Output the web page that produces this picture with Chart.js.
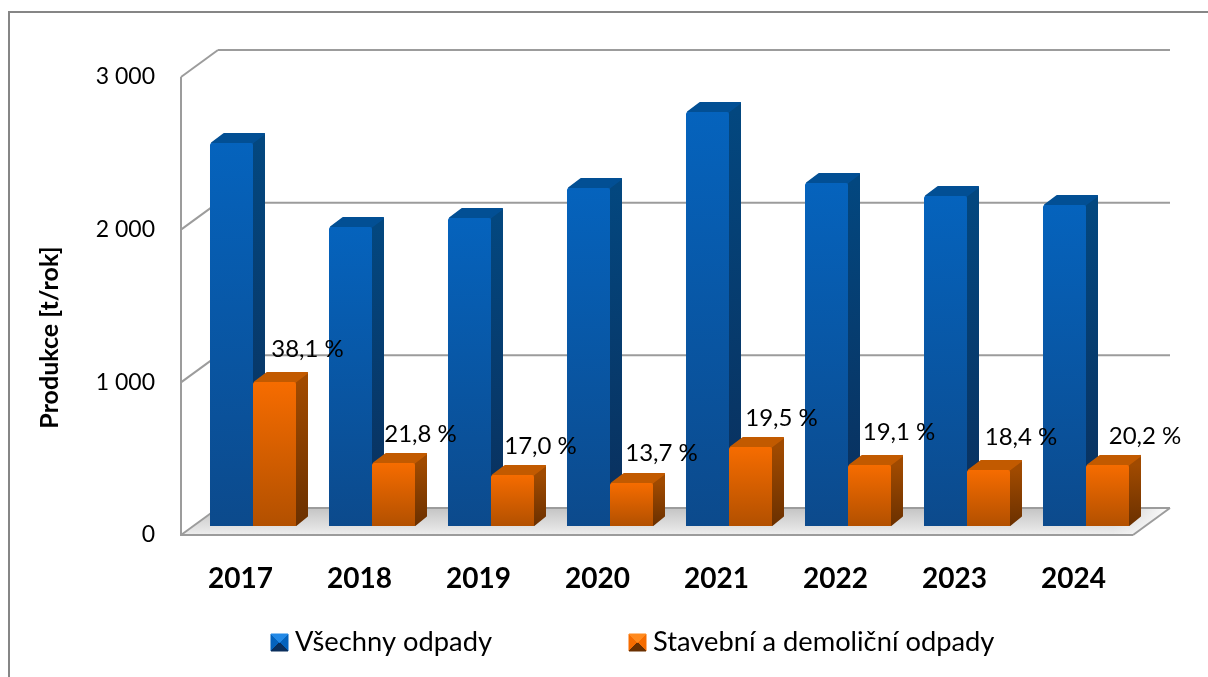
<!DOCTYPE html>
<html lang="cs">
<head>
<meta charset="utf-8">
<title>Produkce odpadů</title>
<script src="https://cdn.jsdelivr.net/npm/chart.js@4"></script>
<style>
    html, body { margin: 0; padding: 0; background: #ffffff; overflow: hidden; }
    #wrap { position: relative; width: 1208px; height: 677px; }
</style>
</head>
<body>
<div id="wrap"><canvas id="wasteChart" width="1208" height="677"></canvas></div>
<script>
// Chart data
const years = ["2017", "2018", "2019", "2020", "2021", "2022", "2023", "2024"];
const allWaste = [2509, 1958, 2017, 2214, 2712, 2247, 2161, 2103];
const demolitionWaste = [943, 413, 334, 282, 517, 400, 367, 400];
const shareLabels = ["38,1 %", "21,8 %", "17,0 %", "13,7 %", "19,5 %", "19,1 %", "18,4 %", "20,2 %"];
const yTickLabels = { 0: "0", 1000: "1 000", 2000: "2 000", 3000: "3 000" };
const seriesNames = ["Všechny odpady", "Stavební a demoliční odpady"];
const yAxisTitle = "Produkce [t/rok]";

const FONT = "Lato, 'Open Sans', sans-serif";
const GRID = "#9c9c9c";

// Depth of the fake 3D box and of the bars
const WALL_DX = 37, WALL_DY = -27;
const BAR_DX = 12, BAR_DY = -11;
const BAR_SHIFT_X = 12.5, BAR_SHIFT_Y = -9;

const blue = { top: "#0563bd", bottom: "#0c4a8c", sideTop: "#03477f", sideBottom: "#0a2f5c", cap: "#024f94", light: "#2389e6" };
const orange = { top: "#f66c00", bottom: "#b25000", sideTop: "#a04a00", sideBottom: "#6a3000", cap: "#c25a00", light: "#ff8a1e" };
const palettes = [blue, orange];

// Percentages were moved by hand in the original, so each one has its own nudge
const labelNudgeX = [33, 27, 28, 30, 31, 29.5, 32.5, 37.5];
const labelNudgeY = [-33, -29, -29, -30, -29, -33, -33, -29];

function frontGradient(context, colors) {
    if (context.type !== "data") return colors.top;
    const chart = context.chart;
    const y = chart.scales.y;
    // the first pass runs before layout, the scale has no pixels yet
    if (!y || !Number.isFinite(y.getPixelForValue(0))) return colors.top;
    const g = chart.ctx.createLinearGradient(0, y.getPixelForValue(context.raw), 0, y.getPixelForValue(0));
    g.addColorStop(0, colors.top);
    g.addColorStop(1, colors.bottom);
    return g;
}

function polygon(ctx, points, fill, edge = 1) {
    ctx.beginPath();
    points.forEach((p, i) => (i === 0 ? ctx.moveTo(p[0], p[1]) : ctx.lineTo(p[0], p[1])));
    ctx.closePath();
    ctx.fillStyle = fill;
    ctx.fill();
    ctx.lineJoin = "round";
    ctx.lineWidth = edge;
    ctx.strokeStyle = fill;
    ctx.stroke();
}

function line(ctx, x1, y1, x2, y2) {
    ctx.beginPath();
    ctx.moveTo(x1, y1);
    ctx.lineTo(x2, y2);
    ctx.stroke();
}

// Walls, floor and grid lines behind the bars
const boxPlugin = {
    id: "box",
    beforeDraw(chart) {
        const ctx = chart.ctx;
        const { left, right, bottom } = chart.chartArea;
        const y = chart.scales.y;

        ctx.save();
        // frame of the chart, only the top and left edges are in the picture
        ctx.strokeStyle = "#868686";
        ctx.lineWidth = 2;
        line(ctx, 8, 12, 1208, 12);
        line(ctx, 9, 12, 9, 677);

        // floor
        const floor = ctx.createLinearGradient(0, bottom + WALL_DY, 0, bottom);
        floor.addColorStop(0, "#c4c4c4");
        floor.addColorStop(1, "#eeeeee");
        polygon(ctx, [[left, bottom], [right, bottom], [right + WALL_DX, bottom + WALL_DY], [left + WALL_DX, bottom + WALL_DY]], floor);
        const fade = ctx.createLinearGradient(right - 20, 0, right + WALL_DX, 0);
        fade.addColorStop(0, "rgba(255,255,255,0)");
        fade.addColorStop(1, "rgba(255,255,255,1)");
        polygon(ctx, [[right - 20, bottom], [right, bottom], [right + WALL_DX, bottom + WALL_DY], [right - 20, bottom + WALL_DY]], fade);

        ctx.strokeStyle = GRID;
        ctx.lineWidth = 2;
        Object.keys(yTickLabels).forEach((value) => {
            const py = y.getPixelForValue(Number(value));
            line(ctx, left, py, left + WALL_DX, py + WALL_DY);
            line(ctx, left + WALL_DX, py + WALL_DY, right + WALL_DX, py + WALL_DY);
        });
        line(ctx, left, y.getPixelForValue(3000), left, bottom);
        line(ctx, left - 1, bottom, right, bottom);
        line(ctx, right, bottom, right + WALL_DX, bottom + WALL_DY);
        ctx.restore();
    },
};

// Side and cap of every bar, the front face comes from Chart.js itself.
// Chart.js paints the last dataset first, so the depth goes down before any front.
const barDepthPlugin = {
    id: "barDepth",
    beforeDatasetsDraw(chart) {
        const ctx = chart.ctx;
        ctx.save();
        ctx.translate(BAR_SHIFT_X, BAR_SHIFT_Y);
        palettes.forEach((colors, index) => {
            chart.getDatasetMeta(index).data.forEach((bar) => {
                const l = bar.x - bar.width / 2;
                const r = bar.x + bar.width / 2;
                const side = ctx.createLinearGradient(0, bar.y, 0, bar.base);
                side.addColorStop(0, colors.sideTop);
                side.addColorStop(1, colors.sideBottom);
                polygon(ctx, [[r, bar.y + 1], [r + BAR_DX - 1, bar.y + BAR_DY + 2], [r + BAR_DX - 1, bar.base + BAR_DY + 1], [r, bar.base - 1]], side, 2);
                polygon(ctx, [[l + 2, bar.y], [l + BAR_DX + 2, bar.y + BAR_DY + 2], [r + BAR_DX - 1, bar.y + BAR_DY + 2], [r - 1, bar.y]], colors.cap, 2);
            });
        });
        ctx.restore();
    },
    beforeDatasetDraw(chart) {
        chart.ctx.save();
        chart.ctx.translate(BAR_SHIFT_X, BAR_SHIFT_Y);
    },
    afterDatasetDraw(chart) {
        chart.ctx.restore();
    },
};

// Axis title, percent labels and legend
const overlayPlugin = {
    id: "overlay",
    afterDraw(chart) {
        const ctx = chart.ctx;
        ctx.save();
        ctx.fillStyle = "#000000";
        ctx.textBaseline = "middle";

        ctx.save();
        ctx.translate(50, 337.5);
        ctx.rotate(-Math.PI / 2);
        ctx.textAlign = "center";
        ctx.font = "bold 25px " + FONT;
        ctx.fillText(yAxisTitle, 0, 0);
        ctx.restore();

        ctx.font = "24px " + FONT;
        ctx.textAlign = "center";
        chart.getDatasetMeta(1).data.forEach((bar, i) => {
            ctx.fillText(shareLabels[i], bar.x + BAR_SHIFT_X + labelNudgeX[i], bar.y + BAR_SHIFT_Y + labelNudgeY[i]);
        });

        ctx.textAlign = "left";
        ctx.font = "27.3px " + FONT;
        [271, 629].forEach((x, i) => {
            legendIcon(ctx, x, 634, 17, palettes[i]);
            ctx.fillStyle = "#000000";
            ctx.fillText(seriesNames[i], x + 24, 642);
        });
        ctx.restore();
    },
};

function legendIcon(ctx, x, y, size, colors) {
    const cx = x + size / 2, cy = y + size / 2;
    polygon(ctx, [[x, y], [cx, cy], [x, y + size]], colors.top);
    polygon(ctx, [[x + size, y], [cx, cy], [x + size, y + size]], colors.top);
    polygon(ctx, [[x, y + size], [x + size, y + size], [cx, cy]], colors.sideBottom);
    polygon(ctx, [[x, y], [x + size, y], [cx, cy]], colors.light);
}

const wasteChart = new Chart(document.getElementById("wasteChart"), {
    type: "bar",
    data: {
        labels: years,
        datasets: [
            {
                label: seriesNames[0],
                data: allWaste,
                clip: false,
                borderRadius: 2,
                backgroundColor: (context) => frontGradient(context, blue),
            },
            {
                label: seriesNames[1],
                data: demolitionWaste,
                clip: false,
                borderRadius: 2,
                backgroundColor: (context) => frontGradient(context, orange),
            },
        ],
    },
    options: {
        responsive: false,
        animation: false,
        categoryPercentage: 0.7227,
        barPercentage: 1,
        layout: { padding: { top: 77, right: 75, bottom: 82, left: 0 } },
        plugins: {
            legend: { display: false },
            tooltip: { enabled: false },
        },
        scales: {
            x: {
                grid: { display: false },
                border: { display: false },
                afterFit(scale) { scale.height = 60; },
                ticks: {
                    color: "#000000",
                    font: { family: FONT, size: 28, weight: "bold" },
                    padding: 19,
                    maxRotation: 0,
                },
            },
            y: {
                min: 0,
                max: 3000,
                grid: { display: false },
                border: { display: false },
                afterFit(scale) { scale.width = 181; },
                ticks: {
                    stepSize: 1000,
                    color: "#000000",
                    font: { family: FONT, size: 23 },
                    padding: 18,
                    callback: (value) => yTickLabels[value],
                },
            },
        },
    },
    plugins: [boxPlugin, barDepthPlugin, overlayPlugin],
});
</script>
</body>
</html>
